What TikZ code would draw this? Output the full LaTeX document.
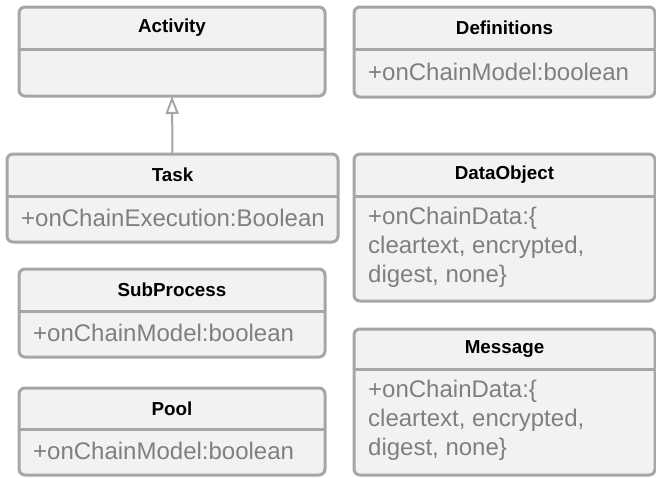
\documentclass[tikz,border=0pt]{standalone}
\usepackage{fontspec}
\setmainfont{Liberation Sans}
\usetikzlibrary{arrows.meta}
\definecolor{bd}{HTML}{A6A6A6}
\definecolor{fl}{HTML}{F2F2F2}
\definecolor{tx}{HTML}{7F7F7F}
\newcommand\umlcls[8]{%
  \node[clsbox, minimum width={#4-#2}, minimum height={#5-#3}] (#1) at ({(#2+#4)/2},{(#3+#5)/2}) {};
  \draw[divline] (#2,#6) -- (#4,#6);
  \node[hdr] (#1-t) at ({(#2+#4)/2},{(#3+#6)/2}) {#7};
  \node[attr] (#1-a) at (#2+14,{(#6+#5)/2-1.5}) {#8};
}
\begin{document}
\begin{tikzpicture}[x=1pt,y=-1pt,
  clsbox/.style={draw=bd, line width=3pt, fill=fl, rounded corners=6pt, inner sep=0pt, outer sep=0pt},
  divline/.style={draw=bd, line width=3pt},
  hdr/.style={font=\fontsize{18.8}{22}\selectfont\bfseries, text=black, inner sep=0pt},
  attr/.style={font=\fontsize{24}{29}\selectfont, text=tx, anchor=west, align=left, inner sep=0pt},
  gen/.style={draw=bd, line width=2pt, -{Triangle[open, length=18pt, width=13pt, line width=2pt]}}]
\useasboundingbox (0,0) rectangle (656,477);
\umlcls{activity}{19}{7}{325}{96}{49}{Activity}{}
\umlcls{task}{7}{154}{338}{242}{196}{Task}{+onChainExecution:Boolean}
\umlcls{subprocess}{19}{269}{325}{357}{311}{SubProcess}{+onChainModel:boolean}
\umlcls{pool}{19}{388}{325}{475}{429}{Pool}{+onChainModel:boolean}
\umlcls{definitions}{354}{7}{655}{97}{49}{Definitions}{+onChainModel:boolean}
\umlcls{dataobject}{354}{154}{655}{301}{196}{DataObject}{+onChainData:\{\\cleartext, encrypted,\\digest, none\}}
\umlcls{message}{354}{329}{655}{475}{369}{Message}{+onChainData:\{\\cleartext, encrypted,\\digest, none\}}
\draw[gen] (task.north) -- (activity.south);
\end{tikzpicture}
\end{document}
